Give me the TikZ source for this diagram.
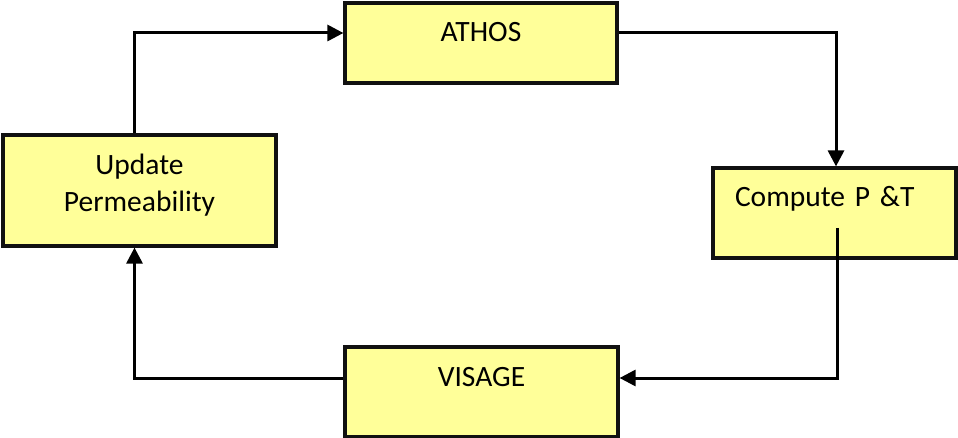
\documentclass[tikz,border=0pt]{standalone}
\usepackage{fontspec}
\setmainfont{Carlito}
\usetikzlibrary{arrows.meta}
\definecolor{cyFill}{HTML}{FFFF99}
\definecolor{cyInk}{HTML}{111111}
\newcommand{\CYType}{\fontsize{29.5}{37}\selectfont}
\tikzset{cy/base/.style={x=1pt,y=-1pt,line cap=butt,line join=miter,
  every node/.style={font=\CYType,inner sep=0pt,text=black}},
  cy/box/.style={draw=cyInk,fill=cyFill,line width=3.2pt,minimum width=273pt,
    minimum height=90pt},
  cy/lift/.style={text height=18pt,text depth=#1},
  cy/flow/.style={-{Triangle[length=16pt,width=16pt]},draw=black,line width=3pt}}
\begin{document}
\begin{tikzpicture}[cy/base]
  \useasboundingbox (0,0) rectangle (958,438);
  % Four stages of the loop; text sits high in each box.
  \node[cy/box,minimum width=272pt,minimum height=80pt,cy/lift=20pt] (athos) at (481,43) {ATHOS};
  \node[cy/box,minimum height=111pt,align=center] (update) at (139.5,190.5)
    {Update\\Permeability\rule[-15pt]{0pt}{0pt}};
  \node[cy/box,minimum width=243pt,text width=199pt,inner xsep=22pt,align=left,cy/lift=30pt]
    (compute) at (834.5,213) {Compute P \&T};
  \node[cy/box,cy/lift=30pt] (visage) at (481.5,392) {VISAGE};
  % The return leg starts inside the Compute box.
  \coordinate (cpt) at ([xshift=2.5,yshift=-15]compute.center);
  \draw[cy/flow] ([xshift=-5]update.north) |- ([yshift=10]athos.west);
  \draw[cy/flow] ([yshift=10]athos.east) -| ([xshift=1.5]compute.north);
  \draw[cy/flow] (cpt) |- ([yshift=14]visage.east);
  \draw[cy/flow] ([yshift=14]visage.west) -| ([xshift=-5]update.south);
\end{tikzpicture}
\end{document}
